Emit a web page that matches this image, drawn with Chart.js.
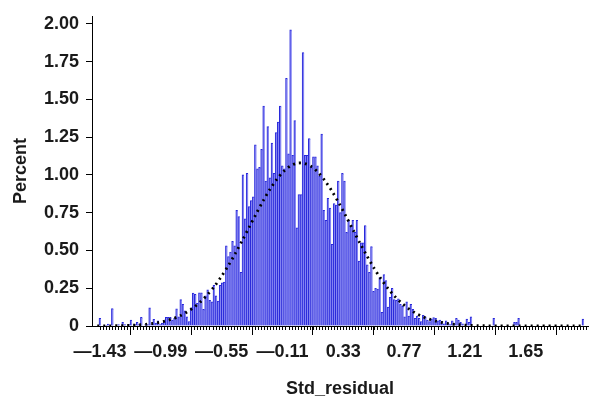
<!DOCTYPE html>
<html>
<head>
<meta charset="utf-8">
<script src="https://cdn.jsdelivr.net/npm/chart.js@4/dist/chart.umd.min.js"></script>
<style>
  html, body { margin: 0; padding: 0; background: #fff; }
  #wrap { position: relative; width: 589px; height: 402px; }
</style>
</head>
<body>
<div id="wrap"><canvas id="chart"></canvas></div>
<script>
// histogram bins: first bin centre and width (Std_residual units)
const binStart = -1.43;
const binWidth = 0.015;

const percent = [
  0.05, 0, 0, 0.005, 0.013, 0, 0.115, 0, 0, 0.01,
  0, 0.025, 0.01, 0, 0.01, 0.04, 0, 0.01, 0.025, 0.01,
  0.057, 0, 0.01, 0.01, 0.12, 0.01, 0.044, 0.02, 0.035, 0.01,
  0.02, 0.03, 0.057, 0.057, 0.057, 0.04, 0.05, 0.113, 0.06, 0.175,
  0.144, 0.1, 0.06, 0.03, 0.12, 0.218, 0.21, 0.15, 0.22, 0.22,
  0.11, 0.2, 0.24, 0.17, 0.16, 0.27, 0.2, 0.165, 0.27, 0.285,
  0.29, 0.53, 0.46, 0.49, 0.56, 0.53, 0.765, 0.725, 0.355, 1.0,
  0.71, 1.01, 0.79, 0.83, 0.855, 1.2, 1.04, 1.05, 1.17, 1.455,
  0.96, 1.32, 0.98, 1.21, 1.01, 1.28, 1.35, 1.455, 1.06, 1.04,
  1.64, 1.14, 1.96, 1.13, 1.36, 0.65, 0.87, 0.87, 1.81, 1.13,
  1.13, 1.24, 1.05, 1.12, 1.12, 1.06, 0.99, 1.27, 0.765, 0.70,
  0.845, 0.78, 0.54, 0.81, 0.80, 0.96, 0.75, 1.01, 0.96, 0.62,
  0.70, 0.66, 0.70, 0.62, 0.70, 0.43, 0.55, 0.55, 0.665, 0.405,
  0.355, 0.525, 0.23, 0.25, 0.245, 0.32, 0.09, 0.34, 0.30, 0.126,
  0.19, 0.25, 0.175, 0.17, 0.18, 0.144, 0.13, 0.06, 0.16, 0.065,
  0.144, 0.11, 0.05, 0.065, 0.05, 0.03, 0.07, 0.06, 0.04, 0.03,
  0.045, 0.055, 0.05, 0.035, 0.04, 0.03, 0.015, 0.035, 0.02, 0.01,
  0.035, 0.015, 0.05, 0.04, 0.025, 0.015, 0, 0.045, 0.025, 0.06,
  0, 0, 0, 0, 0, 0, 0, 0, 0, 0,
  0.05, 0, 0, 0, 0, 0, 0, 0, 0, 0,
  0.025, 0.025, 0.05, 0, 0, 0, 0, 0, 0, 0,
  0, 0, 0, 0, 0, 0, 0, 0, 0, 0,
  0, 0, 0, 0, 0, 0, 0, 0, 0, 0,
  0, 0, 0, 0.045
];

// fitted normal curve (dotted), read every 0.05 from -1.45
const curveStart = -1.45;
const curveStep = 0.05;
const normalCurve = [
  0.0004, 0.0007, 0.0011, 0.0019, 0.003, 0.0047, 0.0073, 0.011, 0.0165, 0.024,
  0.035, 0.049, 0.068, 0.093, 0.124, 0.163, 0.21, 0.265, 0.33, 0.402,
  0.482, 0.567, 0.655, 0.743, 0.828, 0.905, 0.972, 1.025, 1.061, 1.078,
  1.076, 1.055, 1.015, 0.959, 0.89, 0.811, 0.726, 0.638, 0.55, 0.466,
  0.387, 0.316, 0.253, 0.199, 0.154, 0.117, 0.087, 0.064, 0.046, 0.032,
  0.022, 0.015, 0.01, 0.0067, 0.0043, 0.0027, 0.0016, 0.001, 0.0006, 0,
  0, 0, 0, 0, 0, 0, 0, 0, 0, 0, 0
];

// axis ticks
const xTicks = [-1.43, -0.99, -0.55, -0.11, 0.33, 0.77, 1.21, 1.65];
const xMinorStep = 0.022;
const yTicks = [0, 0.25, 0.5, 0.75, 1.0, 1.25, 1.5, 1.75, 2.0];

const barPoints = percent.map((p, i) => ({ x: binStart + i * binWidth, y: p }));
const curvePoints = normalCurve.map((v, i) => ({ x: curveStart + i * curveStep, y: v }));

// small ticks under every bin-group along the x axis
const minorTicks = {
  id: 'minorTicks',
  afterDraw(chart) {
    const xs = chart.scales.x;
    const base = chart.scales.y.getPixelForValue(0);
    const ctx = chart.ctx;
    ctx.save();
    ctx.strokeStyle = '#000';
    ctx.lineWidth = 1;
    ctx.beginPath();
    for (let v = xTicks[0]; v <= xs.max; v += xMinorStep) {
      const px = Math.round(xs.getPixelForValue(v)) + 0.5;
      ctx.moveTo(px, base);
      ctx.lineTo(px, base + 4);
    }
    ctx.stroke();
    ctx.restore();
  }
};

Chart.defaults.font.family = '"Liberation Sans", Arial, Helvetica, sans-serif';
Chart.defaults.color = '#1a1a1a';

const fmt = (v) => {
  if (v === 0) return '0';
  return v < 0 ? '\u2014' + Math.abs(v).toFixed(2) : v.toFixed(2);
};

new Chart(document.getElementById('chart'), {
  type: 'bar',
  data: {
    datasets: [
      {
        type: 'line',
        data: curvePoints,
        borderColor: '#000',
        borderWidth: 2.8,
        borderDash: [2, 4],
        pointRadius: 0,
        tension: 0.3,
        order: 0
      },
      {
        data: barPoints,
        backgroundColor: 'rgb(132,132,242)',
        borderColor: 'rgb(40,40,218)',
        borderWidth: { top: 1, left: 1, right: 0, bottom: 0 },
        barPercentage: 1,
        categoryPercentage: 1,
        order: 1
      }
    ]
  },
  options: {
    responsive: true,
    maintainAspectRatio: false,
    animation: false,
    layout: { padding: { top: 12, right: 1, left: 0, bottom: 0 } },
    plugins: { legend: { display: false }, tooltip: { enabled: false } },
    scales: {
      x: {
        type: 'linear',
        offset: false,
        min: -1.488,
        max: 2.101,
        afterBuildTicks: (scale) => { scale.ticks = xTicks.map(v => ({ value: v })); },
        afterFit: (scale) => { scale.height = 76; },
        grid: { display: true, drawOnChartArea: false, tickLength: 9, color: '#000' },
        border: { display: true, color: '#000', width: 1 },
        ticks: {
          autoSkip: false,
          maxRotation: 0,
          padding: 6,
          font: { size: 18, weight: 'bold' },
          callback: (v) => fmt(v)
        },
        title: {
          display: true,
          text: 'Std_residual',
          font: { size: 18, weight: 'bold' },
          padding: { top: 0, bottom: 2 }
        }
      },
      y: {
        min: 0,
        max: 2.052,
        afterBuildTicks: (scale) => { scale.ticks = yTicks.map(v => ({ value: v })); },
        afterFit: (scale) => { scale.width = 92; },
        grid: { display: true, drawOnChartArea: false, tickLength: 6, color: '#000' },
        border: { display: true, color: '#000', width: 1 },
        ticks: {
          padding: 7,
          font: { size: 18, weight: 'bold', lineHeight: 1 },
          callback: (v) => fmt(v)
        },
        title: {
          display: true,
          text: 'Percent',
          font: { size: 18, weight: 'bold' },
          padding: { top: 10, bottom: 0 }
        }
      }
    }
  },
  plugins: [minorTicks]
});
</script>
</body>
</html>
